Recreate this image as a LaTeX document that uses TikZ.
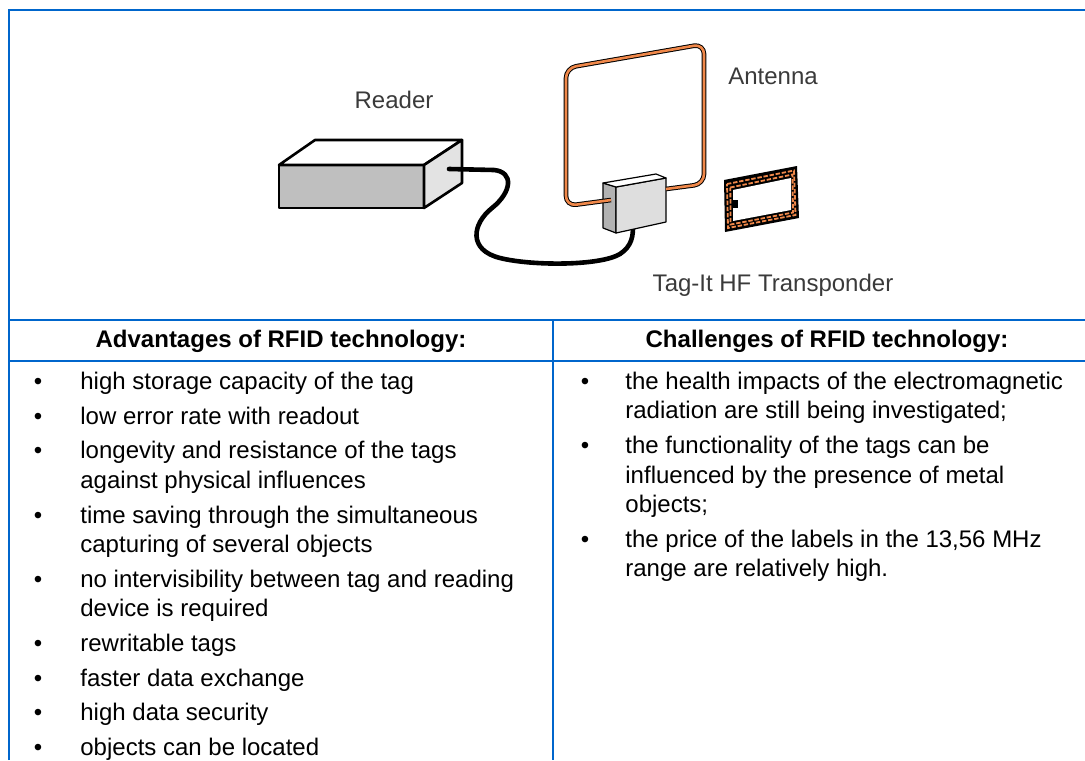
\documentclass[tikz,border=0pt]{standalone}
\usepackage{fontspec}
\setmainfont{Liberation Sans}
\definecolor{rule}{HTML}{0066CC}
\definecolor{wire}{HTML}{F0884A}
\definecolor{label}{HTML}{3A3A3A}
\begin{document}
\begin{tikzpicture}[x=0.5pt,y=-0.5pt,
	cell/.style={draw=rule,line width=1pt},
	caption/.style={text=label,font=\fontsize{12}{14}\selectfont,inner sep=0pt},
	head/.style={font=\fontsize{12}{14}\selectfont\bfseries,anchor=base,inner sep=0pt},
	entry/.style={font=\fontsize{12}{14}\selectfont,anchor=base west,inner sep=0pt},
	dot/.style={font=\fontsize{12}{14}\selectfont,anchor=base,inner sep=0pt},
	box/.style={draw,line width=1.3pt,line join=round},
	unit/.style={draw,line width=0.6pt,line join=round},
	coil/.style={wire,line width=0.9pt,dash pattern=on 2.2pt off 0.9pt}]
	\useasboundingbox (0,0) rectangle (1085,760);
	% table rules
	\draw[cell] (9,760) -- (9,10) -- (1085,10);
	\draw[cell] (9,320) -- (1085,320);
	\draw[cell] (9,361) -- (1085,361);
	\draw[cell] (553,320) -- (553,760);
	% reader
	\draw[box,fill=black!25] (279,165) rectangle (424,208);
	\draw[box,fill=white] (279,165) -- (315,140) -- (462,140) -- (424,165) -- cycle;
	\draw[box,fill=black!11] (424,165) -- (462,140) -- (462,183) -- (424,208) -- cycle;
	\node[caption] (readerlabel) at (394,100) {Reader};
	% cable
	\coordinate (readerport) at (449,169);
	\coordinate (unitport) at (633,226);
	\draw[line width=2.3pt,line cap=round] (readerport) -- (494,170) .. controls (514,172) and (512,192) .. (492,208) .. controls (472,224) and (468,250) .. (500,258) .. controls (532,266) and (600,266) .. (620,254) .. controls (632,246) and (633,236) .. (unitport);
	% antenna unit
	\draw[unit,fill=black!30] (603,183) -- (616,187) -- (616,233) -- (603,228) -- cycle;
	\draw[unit,fill=black!13] (616,187) -- (666,178) -- (666,222) -- (616,233) -- cycle;
	\draw[unit,fill=white] (603,183) -- (656,174) -- (666,178) -- (616,187) -- cycle;
	% loop
	\coordinate (loopin) at (611,200);
	\coordinate (loopout) at (666,189);
	\draw[line width=0.5pt,double=wire,double distance=1.3pt,rounded corners=5pt] (loopin) -- (566,206) -- (566,68) -- (704,44) -- (704,184) -- (loopout);
	\node[caption] (antennalabel) at (773,76) {Antenna};
	% transponder
	\fill (724,180) -- (797,166) -- (799,218) -- (725,232) -- cycle;
	\fill[white] (733,190) -- (791,178) -- (791,210) -- (733,221) -- cycle;
	\draw[coil] (727,184) -- (794,170.5) -- (795.5,215) -- (728,228) -- cycle;
	\draw[coil] (730.3,187.5) -- (792.5,174.5) -- (793,212.5) -- (730.6,224.5) -- cycle;
	\fill (733,200) rectangle (738,208);
	\node[caption] (taglabel) at (773,285) {Tag-It HF Transponder};
	% headings
	\node[head] (advhead) at (281,347) {Advantages of RFID technology:};
	\node[head] (chalhead) at (827,347) {Challenges of RFID technology:};
	% advantages
	\foreach \y [count=\i] in {389,424,458,523,587,651,686,720,755}
		\node[dot] (advdot\i) at (38,\y) {\textbullet};
	\foreach \y/\t [count=\i] in {389/{high storage capacity of the tag},
		424/{low error rate with readout},
		458/{longevity and resistance of the tags},
		488/{against physical influences},
		523/{time saving through the simultaneous},
		552/{capturing of several objects},
		587/{no intervisibility between tag and reading},
		616/{device is required},
		651/{rewritable tags},
		686/{faster data exchange},
		720/{high data security},
		755/{objects can be located}}
		\node[entry] (adv\i) at (80,\y) {\t};
	% challenges
	\foreach \y [count=\i] in {389,453,547}
		\node[dot] (chaldot\i) at (585,\y) {\textbullet};
	\foreach \y/\t [count=\i] in {389/{the health impacts of the electromagnetic},
		418/{radiation are still being investigated;},
		453/{the functionality of the tags can be},
		483/{influenced by the presence of metal},
		512/{objects;},
		547/{the price of the labels in the 13,56 MHz},
		576/{range are relatively high.}}
		\node[entry] (chal\i) at (625,\y) {\t};
\end{tikzpicture}
\end{document}
